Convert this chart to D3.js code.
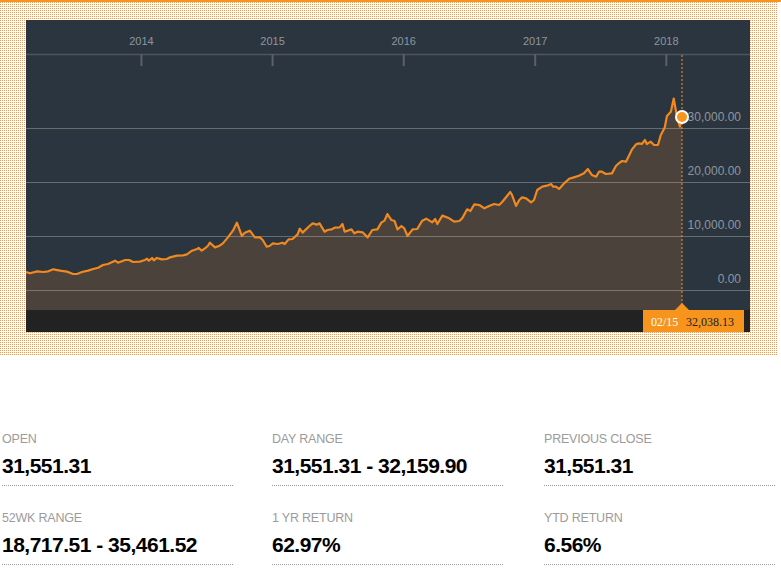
<!DOCTYPE html>
<html><head><meta charset="utf-8">
<script src="https://cdn.jsdelivr.net/npm/d3@7"></script>
<style>body{margin:0;background:#fff;overflow:hidden}svg{display:block}</style>
</head><body><svg id="c" width="781" height="573"></svg>
<script>
const dates = ["2013-02-15","2013-02-26","2013-03-18","2013-04-04","2013-04-18","2013-05-02","2013-05-21","2013-06-09","2013-06-26","2013-07-07","2013-07-21","2013-08-07","2013-08-21","2013-09-04","2013-09-17","2013-10-01","2013-10-21","2013-10-29","2013-11-18","2013-11-29","2013-12-10","2013-12-29","2014-01-12","2014-01-18","2014-01-23","2014-02-01","2014-02-06","2014-02-14","2014-02-28","2014-03-14","2014-03-23","2014-04-11","2014-04-28","2014-05-09","2014-05-23","2014-06-06","2014-06-11","2014-06-19","2014-06-28","2014-07-06","2014-07-12","2014-07-26","2014-08-08","2014-08-17","2014-08-31","2014-09-14","2014-09-25","2014-10-09","2014-10-17","2014-10-31","2014-11-14","2014-11-28","2014-12-06","2014-12-17","2014-12-25","2015-01-03","2015-01-17","2015-01-30","2015-02-05","2015-02-16","2015-02-27","2015-03-13","2015-03-19","2015-03-27","2015-04-15","2015-04-24","2015-05-05","2015-05-13","2015-05-27","2015-06-04","2015-06-16","2015-06-24","2015-07-08","2015-07-16","2015-07-22","2015-08-10","2015-08-18","2015-08-27","2015-09-10","2015-09-24","2015-10-07","2015-10-21","2015-11-01","2015-11-10","2015-11-18","2015-11-29","2015-12-08","2015-12-16","2015-12-27","2016-01-04","2016-01-13","2016-01-27","2016-02-09","2016-02-23","2016-03-05","2016-03-22","2016-03-30","2016-04-05","2016-04-19","2016-05-08","2016-05-22","2016-06-05","2016-06-13","2016-06-27","2016-07-06","2016-07-17","2016-07-31","2016-08-14","2016-08-27","2016-09-10","2016-09-24","2016-10-03","2016-10-16","2016-10-25","2016-10-30","2016-11-10","2016-11-19","2016-11-27","2016-12-08","2016-12-22","2016-12-30","2017-01-08","2017-01-22","2017-02-04","2017-02-16","2017-02-21","2017-03-01","2017-03-10","2017-03-24","2017-04-07","2017-04-20","2017-05-04","2017-05-18","2017-05-29","2017-06-09","2017-06-21","2017-06-29","2017-07-07","2017-07-18","2017-08-04","2017-08-15","2017-08-23","2017-09-01","2017-09-12","2017-09-20","2017-09-29","2017-10-10","2017-10-18","2017-10-26","2017-11-04","2017-11-09","2017-11-20","2017-11-29","2017-12-10","2017-12-18","2017-12-29","2018-01-04","2018-01-15","2018-01-23","2018-02-01","2018-02-09","2018-02-15"];
const closes = [3330,3090,3460,3330,3460,3830,3580,3400,2960,2960,3330,3580,3890,4130,4630,4810,5430,5060,5560,5560,5190,5250,5560,5800,5430,5930,5500,5930,5680,5740,6050,6360,6420,6600,7280,7590,7780,7280,7720,8150,8760,7900,8210,8640,9750,10990,12470,10000,10620,10990,9750,9750,9260,8020,8150,8640,8520,8760,8520,9380,9440,10310,11360,10620,11850,12350,12100,12350,10800,11110,11230,11540,11600,12220,10800,11230,10500,10800,10680,9750,11110,11230,12470,12840,14070,12960,12780,11230,11850,11420,10000,11230,11300,12840,13210,12530,13150,12220,13770,13270,12650,12780,13270,14940,14630,15870,15740,15120,15560,15930,15740,16350,17410,18150,17590,15560,16670,17160,16980,16230,16670,18520,19140,19320,19630,19140,19140,18720,19750,20600,20860,21150,21600,22400,21300,20990,21910,21910,21480,21600,22960,23460,23890,23760,24810,26050,26980,27160,27040,27780,27040,27470,26850,26850,28700,30100,32220,33020,35460,32090,30240,32038.13];
const yTicks = [0, 10000, 20000, 30000];
const yearTicks = ["2014-01-01","2015-01-01","2016-01-01","2017-01-01","2018-01-01"];
const statLabels = ["OPEN","DAY RANGE","PREVIOUS CLOSE","52WK RANGE","1 YR RETURN","YTD RETURN"];
const statValues = ["31,551.31","31,551.31 - 32,159.90","31,551.31","18,717.51 - 35,461.52","62.97%","6.56%"];

const svg = d3.select("#c");
const W = 781;
const sans = "'Liberation Sans', Arial, sans-serif";
const serif = "'Liberation Serif', 'DejaVu Serif', serif";

// dotted background
const defs = svg.append("defs");
const pat = defs.append("pattern").attr("id","dots").attr("width",2).attr("height",2).attr("patternUnits","userSpaceOnUse");
pat.append("rect").attr("width",2).attr("height",2).attr("fill","#fff");
pat.append("rect").attr("width",1).attr("height",1).attr("fill","#ee9a58");
svg.append("rect").attr("x",0).attr("y",0).attr("width",777).attr("height",355).attr("fill","url(#dots)");
svg.append("rect").attr("x",0).attr("y",0).attr("width",W).attr("height",2).attr("fill","#f7941d");

// panel
const P = {left:26, right:750, top:20, axisY:54, plotTop:55, plotBottom:310, bottom:332};
svg.append("rect").attr("x",P.left).attr("y",P.top).attr("width",P.right-P.left).attr("height",P.bottom-P.top).attr("fill","#2b3540");

defs.append("clipPath").attr("id","plotclip").append("rect")
  .attr("x",P.left).attr("y",P.plotTop).attr("width",P.right-P.left).attr("height",P.plotBottom-P.plotTop);

const parse = d3.timeParse("%Y-%m-%d");
const data = dates.map((d,i)=>({date:parse(d), value:closes[i]}));
const x = d3.scaleTime().domain(d3.extent(data,d=>d.date)).range([26,682]);
const y = d3.scaleLinear().domain([0,30000]).range([290,128]);

const plot = svg.append("g").attr("clip-path","url(#plotclip)");
plot.append("path").datum(data)
  .attr("d", d3.area().x(d=>x(d.date)).y0(P.plotBottom).y1(d=>y(d.value)))
  .attr("fill","#4b423b");

// gridlines
plot.selectAll("line.grid").data(yTicks).join("line").attr("class","grid")
  .attr("x1",P.left).attr("x2",P.right)
  .attr("y1",d=>Math.round(y(d))+0.5).attr("y2",d=>Math.round(y(d))+0.5)
  .attr("stroke","rgba(235,225,210,0.32)").attr("stroke-width",1);

// line
plot.append("path").datum(data)
  .attr("d", d3.line().x(d=>x(d.date)).y(d=>y(d.value)))
  .attr("fill","none").attr("stroke","#f0891f").attr("stroke-width",2.2).attr("stroke-linejoin","round");

// bottom dark strip
svg.append("rect").attr("x",P.left).attr("y",P.plotBottom).attr("width",P.right-P.left).attr("height",P.bottom-P.plotBottom).attr("fill","#222222");

// y axis labels
const yAxis = svg.append("g").attr("transform","translate(741,0)")
  .call(d3.axisLeft(y).tickValues(yTicks).tickSize(0).tickPadding(0).tickFormat(d3.format(",.2f")));
yAxis.select(".domain").remove();
yAxis.selectAll("text").attr("dy",-8).attr("fill","#8e959d").style("font-family",sans).style("font-size","12px");

// x axis (top)
svg.append("line").attr("x1",P.left).attr("x2",P.right).attr("y1",P.axisY+0.5).attr("y2",P.axisY+0.5)
  .attr("stroke","#4e555d").attr("stroke-width",1.5);
const xAxis = svg.append("g").attr("transform",`translate(0,${P.axisY})`)
  .call(d3.axisBottom(x).tickValues(yearTicks.map(parse)).tickSize(12).tickFormat(d3.timeFormat("%Y")));
xAxis.select(".domain").remove();
xAxis.selectAll(".tick line").attr("stroke","#5a6169").attr("stroke-width",2);
xAxis.selectAll("text").attr("y",-9).attr("dy",0).attr("fill","#8e959d").style("font-family",sans).style("font-size","11px");

// marker for last point
const last = data[data.length-1];
const lx = x(last.date), ly = y(last.value);
svg.append("line").attr("x1",lx).attr("x2",lx).attr("y1",P.plotTop).attr("y2",P.plotBottom-6)
  .attr("stroke","#f7941d").attr("stroke-width",1).attr("stroke-dasharray","2,2");
svg.append("rect").attr("x",lx-39).attr("y",P.plotBottom).attr("width",101).attr("height",P.bottom-P.plotBottom).attr("fill","#f7941d");
svg.append("path").attr("d",d3.line()([[lx-7,P.plotBottom],[lx,P.plotBottom-7],[lx+7,P.plotBottom]])).attr("fill","#f7941d");
svg.append("text").attr("x",lx-31).attr("y",325.5).text(d3.timeFormat("%m/%d")(last.date))
  .attr("fill","#fff").style("font-family",serif).style("font-size","12px");
svg.append("text").attr("x",lx+4).attr("y",325.5).text(d3.format(",.2f")(last.value))
  .attr("fill","#222").style("font-family",serif).style("font-size","12px");
svg.append("circle").attr("cx",lx).attr("cy",ly).attr("r",6).attr("fill","#f7941d").attr("stroke","#fff").attr("stroke-width",2);

// stats
const colX = [2, 272, 544];
const rowY = [438, 517];
const stats = svg.append("g");
statLabels.forEach((lab,i)=>{
  const cx = colX[i%3], cy = rowY[Math.floor(i/3)];
  stats.append("text").attr("x",cx).attr("y",cy+4.5).text(lab)
    .attr("fill","#9b9b9b").style("font-family",sans).style("font-size","12.5px").style("letter-spacing","-0.2px");
  stats.append("text").attr("x",cx).attr("y",cy+35).text(statValues[i])
    .attr("fill","#000").style("font-family",sans).style("font-weight","bold").style("font-size","21px").style("letter-spacing","-0.5px");
  stats.append("line").attr("x1",cx).attr("x2",cx+232).attr("y1",cy+47.5).attr("y2",cy+47.5)
    .attr("stroke","#999").attr("stroke-width",1).attr("stroke-dasharray","1,1");
});
</script></body></html>
